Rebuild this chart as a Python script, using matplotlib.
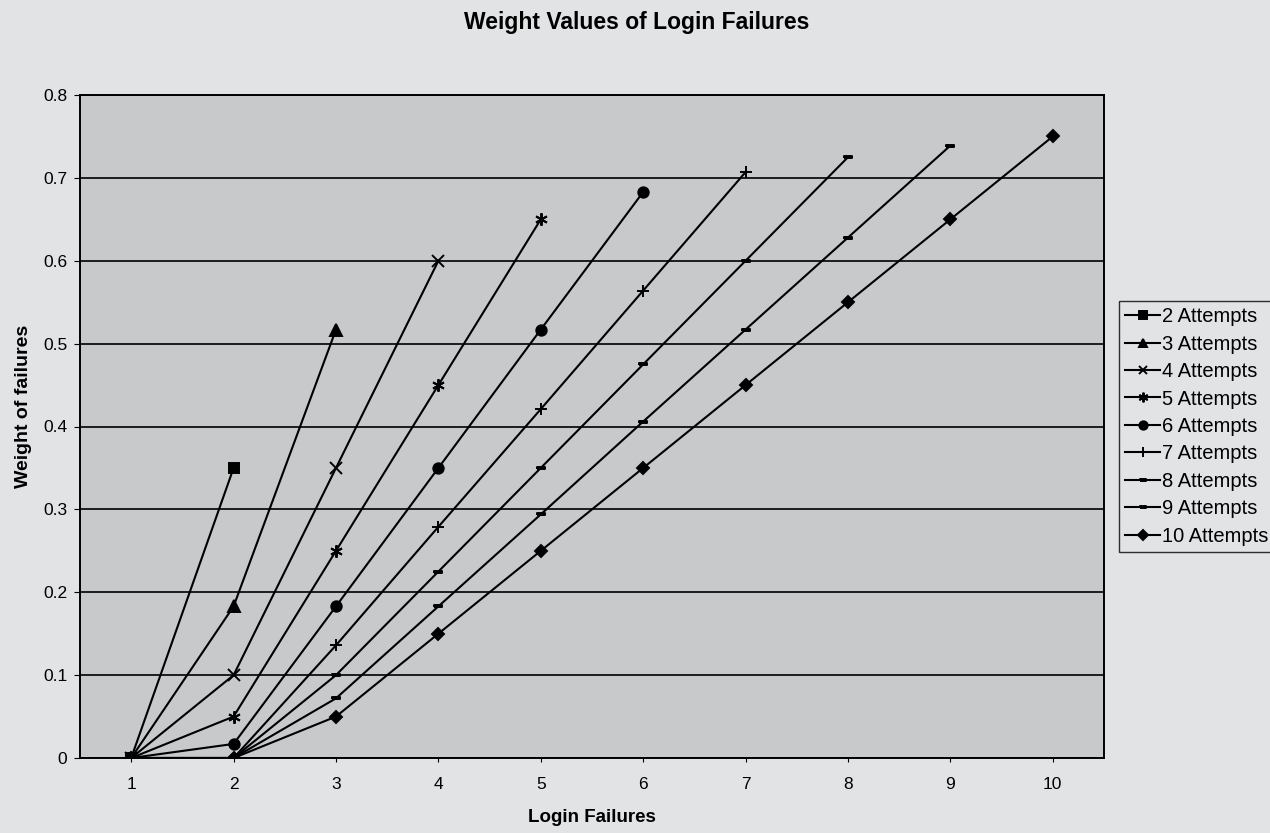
import numpy as np
import matplotlib.pyplot as plt

plt.rcParams['font.family'] = ['Liberation Sans', 'DejaVu Sans']

failures = list(range(1, 11))
labels = ['2 Attempts', '3 Attempts', '4 Attempts', '5 Attempts', '6 Attempts',
          '7 Attempts', '8 Attempts', '9 Attempts', '10 Attempts']
att2 = [0, 0.35]
att3 = [0, 0.183, 0.517]
att4 = [0, 0.1, 0.35, 0.6]
att5 = [0, 0.05, 0.25, 0.45, 0.65]
att6 = [0, 0.017, 0.183, 0.35, 0.517, 0.683]
att7 = [0, 0, 0.136, 0.279, 0.421, 0.564, 0.707]
att8 = [0, 0, 0.1, 0.225, 0.35, 0.475, 0.6, 0.725]
att9 = [0, 0, 0.072, 0.183, 0.294, 0.406, 0.517, 0.628, 0.739]
att10 = [0, 0, 0.05, 0.15, 0.25, 0.35, 0.45, 0.55, 0.65, 0.75]
series = [att2, att3, att4, att5, att6, att7, att8, att9, att10]

# short thick dash marker like excel's
dash = [(-1, -0.35), (1, -0.35), (1, 0.35), (-1, 0.35), (-1, -0.35)]
markers = ['s', '^', 'x', (6, 2, 0), 'o', '+', dash, dash, 'D']
msizes = [7.5, 8, 8, 9, 7.5, 9, 6, 6, 6.5]
leg_sizes = [5.5, 6, 6, 7, 6, 7, 4.5, 4.5, 5]

fig = plt.figure(figsize=(12.7, 8.33), dpi=100, facecolor='#e1e3e5')
ax = fig.add_axes([80 / 1270, 75 / 833, 1024 / 1270, 663 / 833])
ax.set_facecolor('#c7c9cb')

for vals, lab, m, ms in zip(series, labels, markers, msizes):
    ax.plot(failures[:len(vals)], vals, color='black', lw=1.5, marker=m,
            markersize=ms, markeredgewidth=1.4, label=lab)

ax.set_xlim(0.5, 10.5)
ax.set_ylim(0, 0.8)
ax.set_xticks(failures)
ax.set_yticks(np.arange(0, 0.81, 0.1))
ax.set_yticklabels(['0', '0.1', '0.2', '0.3', '0.4', '0.5', '0.6', '0.7', '0.8'])
ax.yaxis.grid(True, color='black', lw=1.2)
ax.set_axisbelow(True)
ax.tick_params(axis='y', labelsize=12.5, length=4, pad=5, color='black')
ax.tick_params(axis='x', labelsize=12.5, length=3, pad=11, color='black')
for s in ax.spines.values():
    s.set_color('black')
    s.set_linewidth(1.4)

ax.set_xlabel('Login Failures', fontsize=13.5, fontweight='bold', labelpad=12)
ax.set_ylabel('Weight of failures', fontsize=14, fontweight='bold', labelpad=8)
ax.yaxis.label.set_y(0.53)
fig.text(0.501, 1 - 23 / 833, 'Weight Values of Login Failures', fontsize=16.5,
         fontweight='bold', ha='center', va='center')

leg = ax.legend(loc='center left', bbox_to_anchor=(1.015, 0.5), fontsize=14.5,
                frameon=True, fancybox=False, edgecolor='black', facecolor='#e1e3e5',
                borderaxespad=0, handlelength=1.7, handletextpad=0.1,
                labelspacing=0.42, borderpad=0.3)
leg.get_frame().set_linewidth(1.0)
for h, s in zip(leg.legend_handles, leg_sizes):
    h.set_markersize(s)

fig.savefig('out.png', dpi=100, facecolor=fig.get_facecolor())
